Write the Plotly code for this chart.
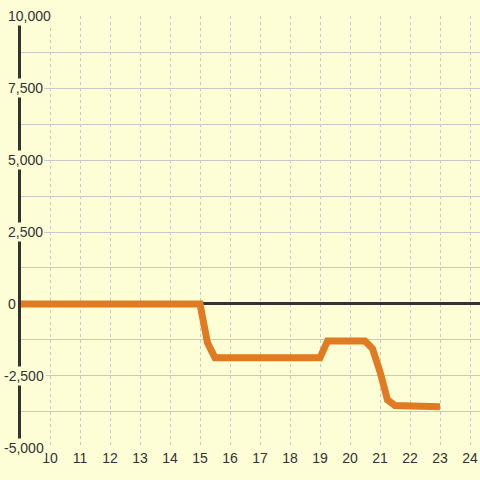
import plotly.graph_objects as go

# data
hours = [9, 15, 15.25, 15.5, 19, 19.25, 20.5, 20.75, 21, 21.25, 21.5, 22, 23]
values = [0, 0, -1350, -1870, -1870, -1290, -1290, -1550, -2350, -3330, -3530, -3550, -3570]

y_tick_vals = [10000, 7500, 5000, 2500, 0, -2500, -5000]
y_tick_text = ["10,000", "7,500", "5,000", "2,500", "0", "-2,500", "-5,000"]

BG = "#fdfed6"
TXT = "#333333"
GRID = "#c8c8c8"
FONT = "Liberation Sans"

fig = go.Figure()
fig.add_trace(go.Scatter(
    x=hours, y=values, mode="lines",
    line=dict(color="#e07b24", width=7),
    hoverinfo="skip", showlegend=False,
))

annotations = []
for v, t in zip(y_tick_vals, y_tick_text):
    annotations.append(dict(
        xref="paper", yref="y", x=0, y=v, text=t, showarrow=False,
        xanchor="left", yanchor="middle",
        xshift=-15 - (4.5 if t.startswith("-") else 0),
        font=dict(family=FONT, size=14, color=TXT),
        bgcolor=BG, borderpad=1,
    ))

fig.update_layout(
    width=480, height=480,
    margin=dict(l=21, r=0, t=16, b=32),
    paper_bgcolor=BG, plot_bgcolor=BG,
    showlegend=False,
    font=dict(family=FONT, size=14, color=TXT),
    annotations=annotations,
    xaxis=dict(
        range=[9.0333, 24.3333], dtick=1, tick0=0,
        showgrid=True, gridcolor=GRID, gridwidth=1, griddash="3px,3px",
        zeroline=False, showline=False, ticks="",
        tickfont=dict(family=FONT, size=14, color=TXT),
        fixedrange=True,
    ),
    yaxis=dict(
        range=[-5002, 10002], dtick=1250, tick0=0,
        showgrid=True, gridcolor=GRID, gridwidth=1,
        zeroline=True, zerolinecolor=TXT, zerolinewidth=3,
        showline=True, linecolor=TXT, linewidth=3,
        showticklabels=False, ticks="",
        fixedrange=True,
    ),
)

fig.write_html(
    "out.html",
    config={"displayModeBar": False},
    post_script="document.body.style.margin='0';document.body.style.padding='0';"
                "document.body.style.overflow='hidden';"
                "document.body.style.background='" + BG + "';",
)
